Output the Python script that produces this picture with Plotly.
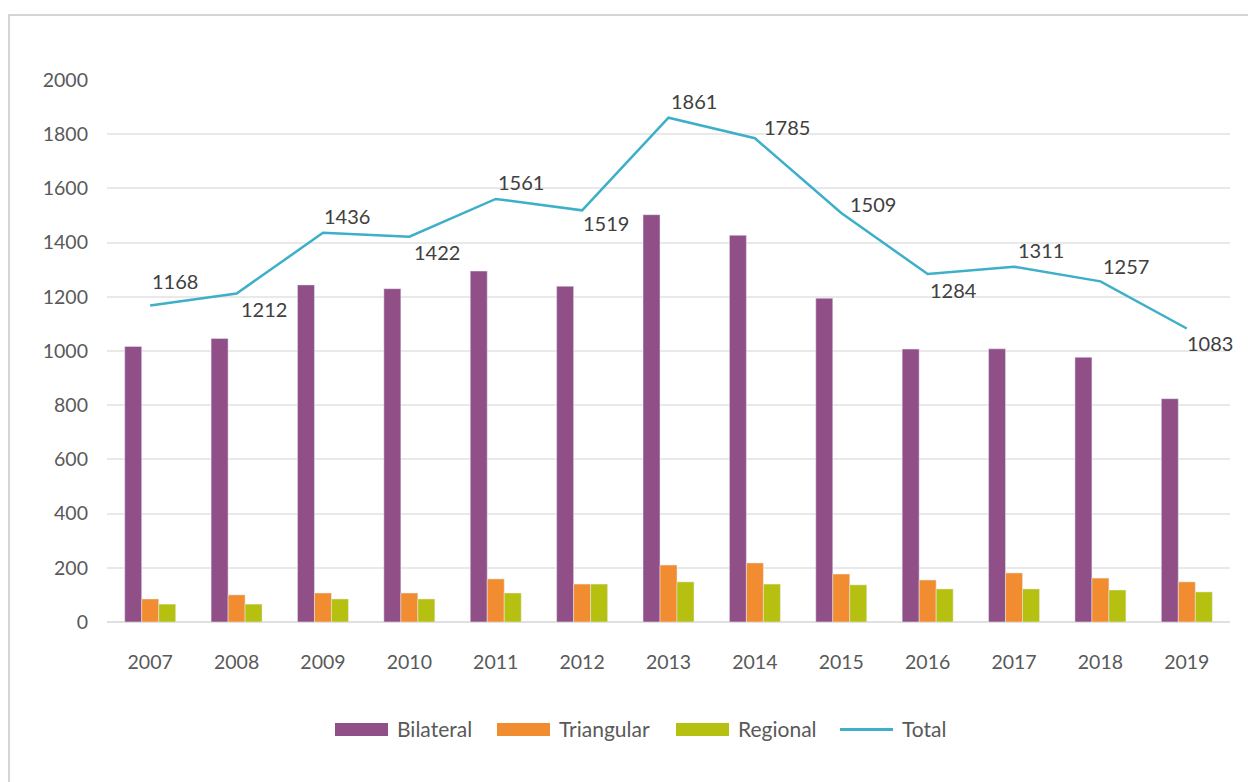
import plotly.graph_objects as go

years = ["2007", "2008", "2009", "2010", "2011", "2012", "2013",
         "2014", "2015", "2016", "2017", "2018", "2019"]
bilateral = [1017, 1046, 1244, 1230, 1295, 1239, 1503, 1427, 1195, 1007, 1008, 977, 824]
triangular = [85, 100, 107, 107, 159, 140, 210, 218, 177, 155, 181, 162, 148]
regional = [66, 66, 85, 85, 107, 140, 148, 140, 137, 122, 122, 118, 111]
total = [1168, 1212, 1436, 1422, 1561, 1519, 1861, 1785, 1509, 1284, 1311, 1257, 1083]

series_names = ["Bilateral", "Triangular", "Regional", "Total"]
series_colors = ["#914F88", "#F28C30", "#B5C010", "#3DAFC9"]

# label offsets (px) for total data labels
lab_dx = [25, 27, 24, 28, 25, 24, 25, 32, 32, 26, 27, 26, 23]
lab_dy = [24, -15, 17, -15, 17, -13, 17, 11, 9, -16, 17, 15, -14]

col_text = "#595959"
FONT = "Lato"

# page offset (browser body margin) compensation
W, H = 1256, 782
ML, MR, MT, MB = 99, 34, 72, 168
PW, PH = W - ML - MR, H - MT - MB
OFF = 8


def px_x(sx):
    return (sx - OFF - ML) / PW


def px_y(sy):
    return (H - MB - (sy - OFF)) / PH


fig = go.Figure()
for name, vals, col in zip(series_names[:3], [bilateral, triangular, regional], series_colors[:3]):
    fig.add_trace(go.Bar(x=years, y=vals, name=name, marker_color=col))
fig.add_trace(go.Scatter(x=years, y=total, name="Total", mode="lines",
                         line=dict(color=series_colors[3], width=2.5)))

for i, (y, dx, dy) in enumerate(zip(total, lab_dx, lab_dy)):
    fig.add_annotation(x=i, y=y, text=str(y), showarrow=False,
                       xshift=dx, yshift=dy,
                       font=dict(family=FONT, size=20, color="#404040"))

# outer frame
fig.add_shape(type="rect", xref="paper", yref="paper",
              x0=px_x(9), x1=1.2, y0=-0.5, y1=px_y(15),
              line=dict(color="#C8C8C8", width=1.5), fillcolor="rgba(0,0,0,0)",
              layer="below")

# custom legend
leg_x = [335, 497, 676, 840]
leg_y = 729.5
for k, (name, col, lx) in enumerate(zip(series_names, series_colors, leg_x)):
    if k < 3:
        fig.add_shape(type="rect", xref="paper", yref="paper",
                      x0=px_x(lx), x1=px_x(lx + 53), y0=px_y(leg_y + 6.5), y1=px_y(leg_y - 6.5),
                      line=dict(width=0), fillcolor=col)
    else:
        fig.add_shape(type="line", xref="paper", yref="paper",
                      x0=px_x(lx), x1=px_x(lx + 53), y0=px_y(leg_y), y1=px_y(leg_y),
                      line=dict(color=col, width=3))
    fig.add_annotation(xref="paper", yref="paper", x=px_x(lx + 60), y=px_y(leg_y - 1),
                       xanchor="left", yanchor="middle", text=name, showarrow=False,
                       font=dict(family=FONT, size=21, color=col_text))

fig.update_layout(
    width=W, height=H,
    margin=dict(l=ML, r=MR, t=MT, b=MB),
    paper_bgcolor="white", plot_bgcolor="white",
    barmode="group", bargap=0.41, bargroupgap=0,
    font=dict(family=FONT, size=19, color=col_text),
    showlegend=False,
    xaxis=dict(type="category", range=[-0.5, 12.5], showgrid=False, showline=False,
               zeroline=False, ticks="", ticklabelstandoff=26,
               tickfont=dict(family=FONT, size=19.5, color=col_text)),
    yaxis=dict(range=[0, 2000], dtick=200, showgrid=True, gridcolor="#E9E9E9",
               gridwidth=1.5, zeroline=True, zerolinecolor="#E0E0E0", zerolinewidth=2,
               showline=False, ticks="", ticklabelstandoff=18,
               tickfont=dict(family=FONT, size=19.5, color=col_text)),
)

fig.write_html("out.html")
